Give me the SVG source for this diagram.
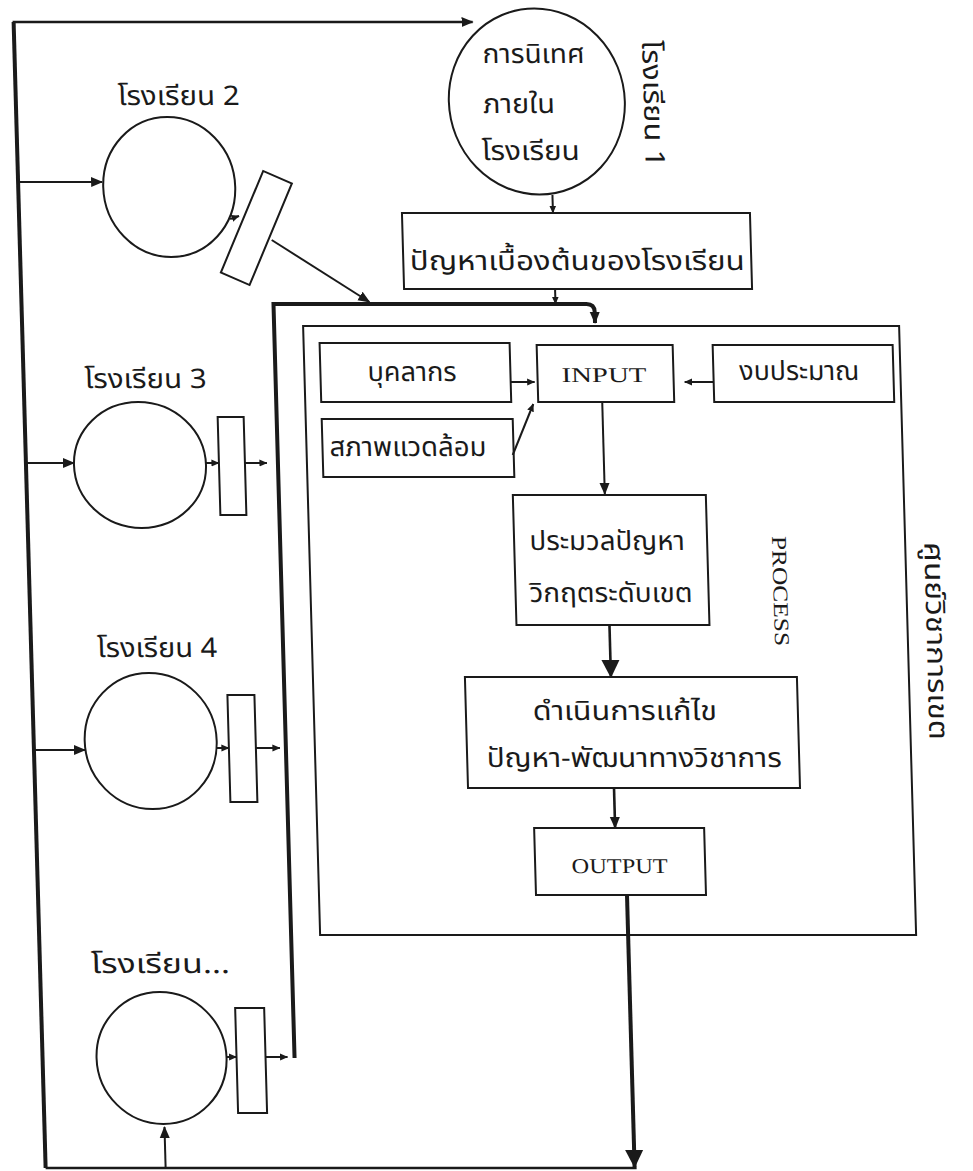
<svg xmlns="http://www.w3.org/2000/svg" width="973" height="1171" viewBox="0 0 973 1171">
<style>
.ln{fill:none;stroke:#1a1a1a;stroke-width:2}
.th{fill:none;stroke:#1a1a1a;stroke-width:4}
.md{fill:none;stroke:#1a1a1a;stroke-width:2.6}
.bx{fill:none;stroke:#1a1a1a;stroke-width:2}
.t{font-family:"Noto Sans Thai","Noto Sans","DejaVu Sans",sans-serif;font-size:27px;fill:#1a1a1a}
.e{font-family:"Liberation Serif",serif;font-size:21px;fill:#1a1a1a}
</style>
<defs>
<marker id="ah" markerUnits="userSpaceOnUse" markerWidth="12" markerHeight="12" refX="11" refY="6" orient="auto"><path d="M0,1 L12,6 L0,11 z" fill="#1a1a1a"/></marker>
<marker id="as" markerUnits="userSpaceOnUse" markerWidth="8" markerHeight="8" refX="7.5" refY="4" orient="auto"><path d="M0,0.5 L8,4 L0,7.5 z" fill="#1a1a1a"/></marker>
<marker id="ab" markerUnits="userSpaceOnUse" markerWidth="18" markerHeight="20" refX="17" refY="10" orient="auto"><path d="M0,1 L18,10 L0,19 z" fill="#1a1a1a"/></marker>
</defs>
<rect x="0" y="0" width="973" height="1171" fill="#ffffff"/>
<g transform="skewX(1.6)">
<g id="connectors">
<path class="th" d="M13,1168 V22"/>
<path class="md" d="M12,22 H472" marker-end="url(#ah)"/>
<path class="md" d="M13,1168 H604"/>
<path class="th" d="M602,895 V1167" marker-end="url(#ab)"/>
<path class="ln" d="M133,1168 V1127" marker-end="url(#ah)"/>
<path class="th" d="M265,1058 V304 H578 Q586,304 586,312 V323" marker-end="url(#ah)"/>
<path class="ln" d="M547,195 V213" marker-end="url(#as)"/>
<path class="ln" d="M547,289 V304" marker-end="url(#as)"/>
<path class="ln" d="M13,182 H97" marker-end="url(#ah)"/>
<path class="ln" d="M224,219 L233,216" marker-end="url(#as)"/>
<path class="ln" d="M265,240 L361,302" marker-end="url(#ah)"/>
<path class="ln" d="M13,463 H61" marker-end="url(#ah)"/>
<path class="ln" d="M193,463 H206" marker-end="url(#as)"/>
<path class="ln" d="M232,463 H254" marker-end="url(#as)"/>
<path class="ln" d="M13,750 H64" marker-end="url(#ah)"/>
<path class="ln" d="M196,748 H208" marker-end="url(#as)"/>
<path class="ln" d="M235,748 H259" marker-end="url(#as)"/>
<path class="ln" d="M197,1057 H207" marker-end="url(#as)"/>
<path class="ln" d="M236,1057 H258" marker-end="url(#as)"/>
<path class="ln" d="M500,382 H524" marker-end="url(#as)"/>
<path class="ln" d="M703,382 H674" marker-end="url(#as)"/>
<path class="ln" d="M500,455 L522,404" marker-end="url(#as)"/>
<path class="ln" d="M591,402 V494" marker-end="url(#ah)"/>
<path class="md" d="M592,625 V677" marker-end="url(#ab)"/>
<path class="md" d="M592,788 V828" marker-end="url(#ah)"/>
</g>
<g id="school1">
<ellipse class="ln" cx="534" cy="101.5" rx="88" ry="93"/>
<text class="t" x="481" y="63" textLength="102" lengthAdjust="spacingAndGlyphs">การนิเทศ</text>
<text class="t" x="480" y="113" textLength="72" lengthAdjust="spacingAndGlyphs">ภายใน</text>
<text class="t" x="477.5" y="160" textLength="98" lengthAdjust="spacingAndGlyphs">โรงเรียน</text>
<text class="t" transform="translate(641,40) rotate(90)" x="0" y="0" font-size="25" textLength="127" lengthAdjust="spacingAndGlyphs">โรงเรียน 1</text>
</g>
<g id="school2">
<text class="t" x="115" y="105" textLength="122" lengthAdjust="spacingAndGlyphs">โรงเรียน 2</text>
<ellipse class="ln" cx="164" cy="187" rx="66" ry="70"/>
<rect class="bx" x="-15.5" y="-55.5" width="31" height="111" transform="translate(250,228) rotate(24)"/>
</g>
<g id="school3">
<text class="t" x="74" y="388" textLength="122" lengthAdjust="spacingAndGlyphs">โรงเรียน 3</text>
<ellipse class="ln" cx="127" cy="465" rx="66" ry="63"/>
<rect class="bx" x="206" y="417" width="26" height="98"/>
</g>
<g id="school4">
<text class="t" x="79" y="657" textLength="120" lengthAdjust="spacingAndGlyphs">โรงเรียน 4</text>
<ellipse class="ln" cx="130" cy="741" rx="66" ry="68"/>
<rect class="bx" x="208" y="695" width="27" height="107"/>
</g>
<g id="school5">
<text class="t" x="64" y="973" textLength="139" lengthAdjust="spacingAndGlyphs">โรงเรียน...</text>
<ellipse class="ln" cx="132" cy="1058" rx="65" ry="66"/>
<rect class="bx" x="207" y="1008" width="29" height="105"/>
</g>
<g id="problems">
<rect class="bx" x="396" y="213" width="348" height="76"/>
<text class="t" x="402.5" y="270" textLength="335" lengthAdjust="spacingAndGlyphs">ปัญหาเบื้องต้นของโรงเรียน</text>
</g>
<g id="district">
<rect class="bx" x="294" y="326" width="596" height="609"/>
<text class="e" transform="translate(757,536) rotate(90)" x="0" y="0" font-size="16" textLength="110" lengthAdjust="spacingAndGlyphs">PROCESS</text>
<text class="t" transform="translate(909,542) rotate(90)" x="0" y="0" font-size="27" textLength="198" lengthAdjust="spacingAndGlyphs">ศูนย์วิชาการเขต</text>
</g>
<g id="personnel">
<rect class="bx" x="310" y="343" width="190" height="59"/>
<text class="t" x="357" y="381" textLength="89" lengthAdjust="spacingAndGlyphs">บุคลากร</text>
</g>
<g id="input">
<rect class="bx" x="527" y="345" width="136" height="57"/>
<text class="e" x="551" y="382" textLength="85" lengthAdjust="spacingAndGlyphs">INPUT</text>
</g>
<g id="budget">
<rect class="bx" x="703" y="345" width="180" height="57"/>
<text class="t" x="729" y="380" textLength="120" lengthAdjust="spacingAndGlyphs">งบประมาณ</text>
</g>
<g id="environment">
<rect class="bx" x="310" y="419" width="191" height="58"/>
<text class="t" x="317" y="456" textLength="157" lengthAdjust="spacingAndGlyphs">สภาพแวดล้อม</text>
</g>
<g id="screening">
<rect class="bx" x="499" y="495" width="193" height="130"/>
<text class="t" x="514.5" y="550" textLength="155" lengthAdjust="spacingAndGlyphs">ประมวลปัญหา</text>
<text class="t" x="513" y="602" textLength="163" lengthAdjust="spacingAndGlyphs">วิกฤตระดับเขต</text>
</g>
<g id="solving">
<rect class="bx" x="446" y="677" width="332" height="111"/>
<text class="t" x="513" y="720" textLength="184" lengthAdjust="spacingAndGlyphs">ดำเนินการแก้ไข</text>
<text class="t" x="465.5" y="767" textLength="295" lengthAdjust="spacingAndGlyphs">ปัญหา-พัฒนาทางวิชาการ</text>
</g>
<g id="output">
<rect class="bx" x="511" y="828" width="170" height="67"/>
<text class="e" x="547.5" y="873" textLength="96" lengthAdjust="spacingAndGlyphs">OUTPUT</text>
</g>
</g>
</svg>
